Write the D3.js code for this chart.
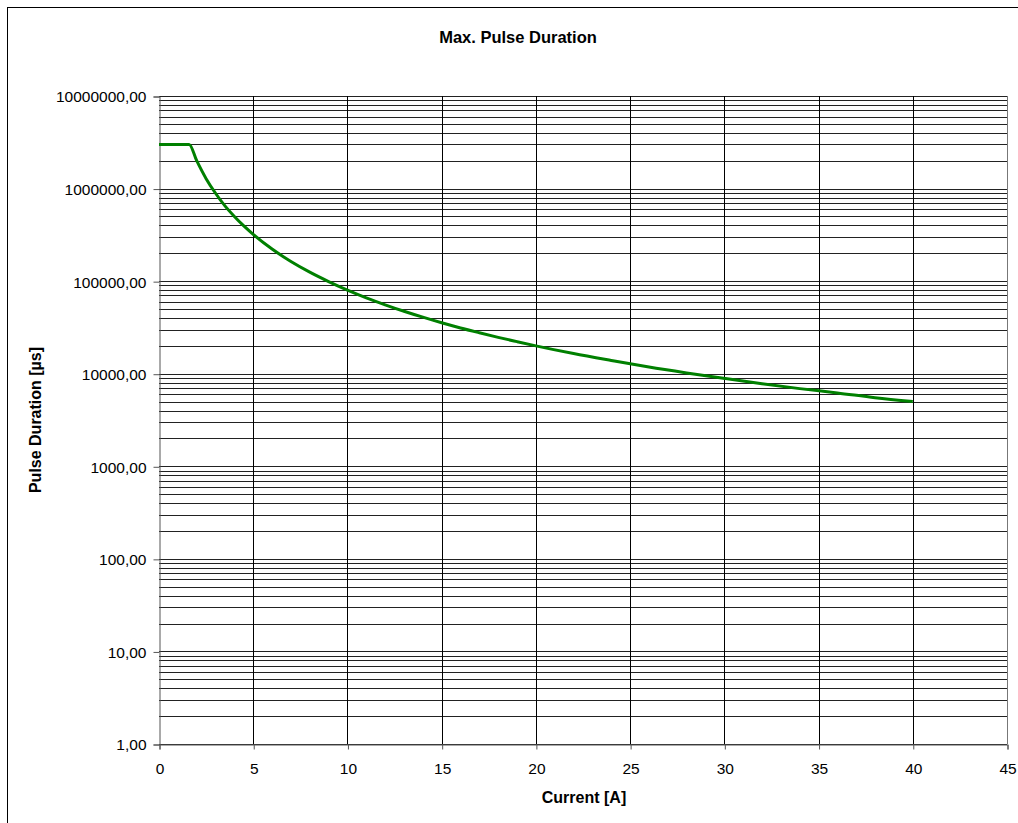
<!DOCTYPE html>
<html><head><meta charset="utf-8">
<script src="https://cdn.jsdelivr.net/npm/d3@7/dist/d3.min.js"></script>
<style>body{margin:0;background:#fff}svg{display:block}text{font-family:"Liberation Sans",Arial,sans-serif}</style>
</head><body>
<svg id="c" width="1018" height="823"></svg>
<script>
const title = "Max. Pulse Duration";
const xLabel = "Current [A]";
const yLabel = "Pulse Duration [µs]";
const xTicks = [0,5,10,15,20,25,30,35,40,45];
const yTicks = [1,10,100,1000,10000,100000,1000000,10000000];
const currentA = [0,1.6,2,2.5,3,3.5,4,4.5,5,6,7,8,9,10,11,12,13,14,15,16,17,18,19,20,22,24,26,28,30,32,34,36,38,40];
const durationUs = [3000000,3000000,2000000,1280000,890000,650000,500000,395000,320000,222000,163000,125000,99000,80000,66000,55500,47300,40800,35500,31200,27700,24700,22200,20000,16500,13900,11800,10200,8900,7800,6900,6200,5500,5000];

const svg = d3.select("#c");
const L=159, R=1007, T=96, B=744;
const x = d3.scaleLinear().domain([0,45]).range([L,R]);
const y = d3.scaleLog().domain([1,1e7]).range([B,T]);

// outer frame
svg.append("rect").attr("x",7.5).attr("y",7.5).attr("width",1100).attr("height",1100)
  .attr("fill","none").attr("stroke","#000").attr("stroke-width",1);

// horizontal grid
const hg=[];
for(let d=0; d<7; d++) for(let k=1;k<=9;k++) hg.push(k*Math.pow(10,d));
hg.push(1e7);
svg.append("g").selectAll("line").data(hg).join("line")
  .attr("x1",L).attr("x2",R)
  .attr("y1",d=>Math.round(y(d))+0.5).attr("y2",d=>Math.round(y(d))+0.5)
  .attr("stroke","#222").attr("stroke-width",1);
// vertical grid
svg.append("g").selectAll("line").data(xTicks.slice(1)).join("line")
  .attr("x1",d=>Math.round(x(d))+0.5).attr("x2",d=>Math.round(x(d))+0.5)
  .attr("y1",T).attr("y2",B).attr("stroke",d=>d===45?"#777":"#000").attr("stroke-width",1);

// axes
const fmt = d=>d3.format("d")(d)+",00";
const ya = svg.append("g").attr("transform",`translate(${L+0.5},0.5)`)
  .call(d3.axisLeft(y).tickValues(yTicks).tickFormat(fmt).tickSize(6).tickPadding(7));
const xa = svg.append("g").attr("transform",`translate(0.5,${B+0.5})`)
  .call(d3.axisBottom(x).tickValues(xTicks).tickFormat(d3.format("d")).tickSize(5).tickPadding(13));
[ya,xa].forEach(a=>{
  a.select(".domain").attr("stroke","#555");
  a.selectAll(".tick line").attr("stroke","#555");
  a.selectAll("text").attr("font-size","15.5px").attr("fill","#000").style("font-family",'"Liberation Sans",Arial,sans-serif');
});
ya.selectAll("text").attr("dy","0.35em");

// line
const pts = currentA.map((c,i)=>[c,durationUs[i]]);
svg.append("path").datum(pts)
  .attr("d",d3.line().x(d=>x(d[0])).y(d=>y(d[1])).curve(d3.curveMonotoneX))
  .attr("fill","none").attr("stroke","#008000").attr("stroke-width",3).attr("stroke-linejoin","round");

// titles
svg.append("text").attr("x",518).attr("y",43).attr("text-anchor","middle")
  .attr("font-weight","bold").attr("font-size","16.5px").text(title);
svg.append("text").attr("x",584).attr("y",803).attr("text-anchor","middle")
  .attr("font-weight","bold").attr("font-size","16px").text(xLabel);
svg.append("text").attr("transform","translate(41,420) rotate(-90)").attr("text-anchor","middle")
  .attr("font-weight","bold").attr("font-size","16px").text(yLabel);
</script>
</body></html>
